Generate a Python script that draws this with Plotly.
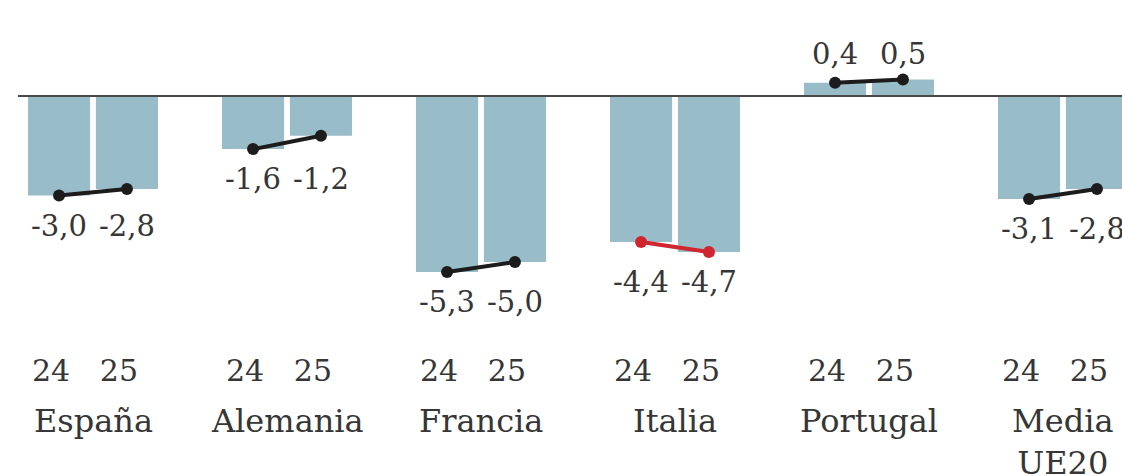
import plotly.graph_objects as go

# ---- data ----
countries = ["España", "Alemania", "Francia", "Italia", "Portugal", "Media<br>UE20"]
years = ["24", "25"]
v2024 = [-3.0, -1.6, -5.3, -4.4, 0.4, -3.1]
v2025 = [-2.8, -1.2, -5.0, -4.7, 0.5, -2.8]

# ---- style ----
BAR_COLOR = "#98bdc9"
LINE_COLOR = "#1c1c1c"
WORSE_COLOR = "#d0262f"
TEXT_COLOR = "#363636"
FONT = "DejaVu Serif"
OFF = 0.175   # half distance between the two bars of a group (axis units)
BW = 0.32     # bar width (axis units)


def fmt(v):
    return f"{v:.1f}".replace(".", ",")


idx = list(range(len(countries)))
x24 = [i - OFF for i in idx]
x25 = [i + OFF for i in idx]

fig = go.Figure()
fig.add_trace(go.Bar(x=x24, y=v2024, width=BW, name="2024",
                     marker=dict(color=BAR_COLOR, line_width=0)))
fig.add_trace(go.Bar(x=x25, y=v2025, width=BW, name="2025",
                     marker=dict(color=BAR_COLOR, line_width=0)))

annotations = []
for i in idx:
    color = WORSE_COLOR if v2025[i] < v2024[i] else LINE_COLOR
    fig.add_trace(go.Scatter(
        x=[x24[i], x25[i]], y=[v2024[i], v2025[i]],
        mode="lines+markers",
        line=dict(color=color, width=4),
        marker=dict(color=color, size=12),
        cliponaxis=False, hoverinfo="skip"))
    neg = min(v2024[i], v2025[i]) < 0
    ref = min(v2024[i], v2025[i]) if neg else max(v2024[i], v2025[i])
    for xv, v in ((x24[i], v2024[i]), (x25[i], v2025[i])):
        annotations.append(dict(
            x=xv, y=ref, xref="x", yref="y", text=fmt(v), showarrow=False,
            yanchor="middle", xanchor="center", yshift=-30 if neg else 25,
            font=dict(family=FONT, size=29, color=TEXT_COLOR)))
    annotations.append(dict(
        x=i, y=0, xref="x", yref="paper", text=countries[i], showarrow=False,
        yanchor="top", xanchor="center", yshift=-50,
        font=dict(family=FONT, size=32, color=TEXT_COLOR)))

tickvals = []
ticktext = []
for i in idx:
    tickvals += [x24[i], x25[i]]
    ticktext += years

fig.update_layout(
    width=1122, height=476,
    margin=dict(l=18, r=0, t=20, b=126),
    paper_bgcolor="white", plot_bgcolor="white",
    barmode="overlay", showlegend=False, hovermode=False,
    annotations=annotations,
    shapes=[dict(type="line", xref="paper", x0=0, x1=1, yref="y", y0=0, y1=0,
                 line=dict(color="#474747", width=2), layer="above")],
    xaxis=dict(range=[-0.3866, 5.3041], tickvals=tickvals, ticktext=ticktext,
               showgrid=False, zeroline=False, showline=False, ticks="",
               tickfont=dict(family=FONT, size=30, color=TEXT_COLOR),
               ticklabelshift=-8, ticklabelstandoff=0),
    yaxis=dict(range=[-7.651, 2.289], showticklabels=False, showgrid=False,
               zeroline=False, showline=False),
)

fig.write_html(
    "out.html",
    config={"displayModeBar": False},
    post_script="document.body.style.margin='0';"
                "document.body.style.overflow='hidden';"
                "document.documentElement.style.overflow='hidden';",
)
